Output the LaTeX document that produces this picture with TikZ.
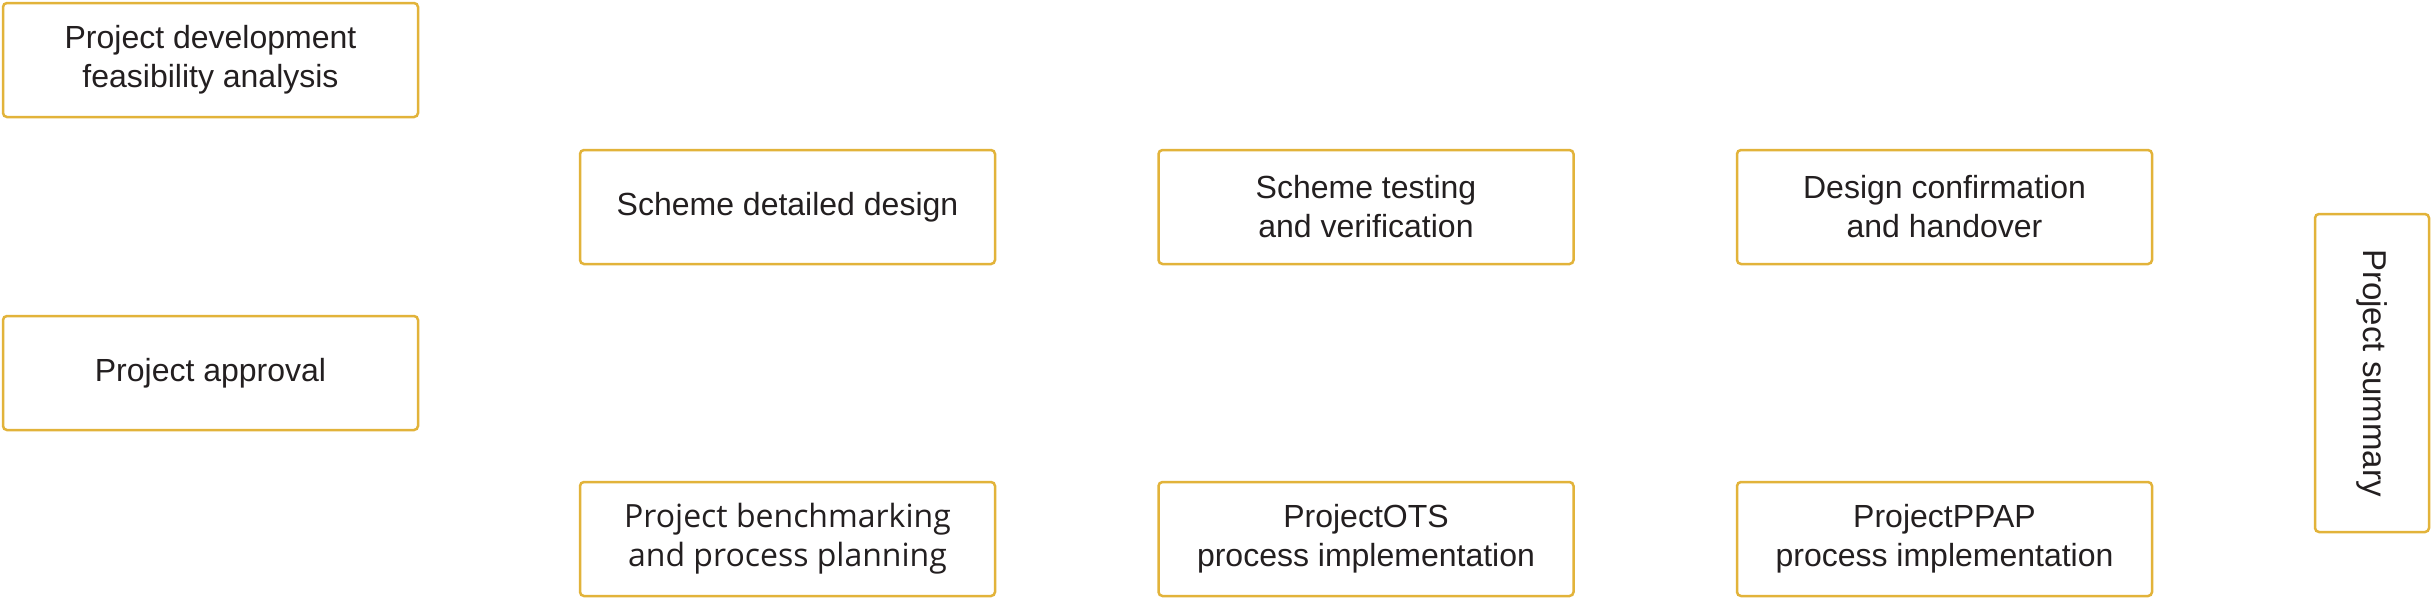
\documentclass[tikz,border=0pt]{standalone}
\usepackage{fontspec}
\setmainfont{Liberation Sans}
\newfontfamily\segoelike{Open Sans}
\definecolor{boxgold}{HTML}{E2B33A}
\definecolor{txt}{HTML}{231F20}
\begin{document}
\begin{tikzpicture}[x=1pt,y=-1pt,
  stagebox/.style={draw=boxgold, line width=2.5pt, rounded corners=4pt, fill=white,
    minimum width=415pt, minimum height=114pt, inner sep=0pt, align=center,
    text=txt, font=\fontsize{32}{39}\selectfont},
  altbox/.style={stagebox, font=\segoelike\fontsize{32}{39}\selectfont},
  sidebox/.style={stagebox, rotate=-90, minimum width=318pt, minimum height=114pt,
    font=\fontsize{33}{39}\selectfont}]
\useasboundingbox (0,0) rectangle (2433,600);
\node[stagebox] (feas) at (210.5,60) {Project development\\feasibility analysis};
\node[stagebox] (appr) at (210.5,373) {Project approval};
\node[stagebox] (sdd) at (787.5,207) {Scheme detailed design};
\node[stagebox] (stv) at (1366,207) {Scheme testing\\and verification};
\node[stagebox] (dch) at (1944.5,207) {Design confirmation\\and handover};
\node[altbox] (pbp) at (787.5,539) {Project benchmarking\\and process planning};
\node[stagebox] (ots) at (1366,539) {ProjectOTS\\process implementation};
\node[stagebox] (ppap) at (1944.5,539) {ProjectPPAP\\process implementation};
\node[sidebox] (sum) at (2372,373) {Project summary};
\end{tikzpicture}
\end{document}
